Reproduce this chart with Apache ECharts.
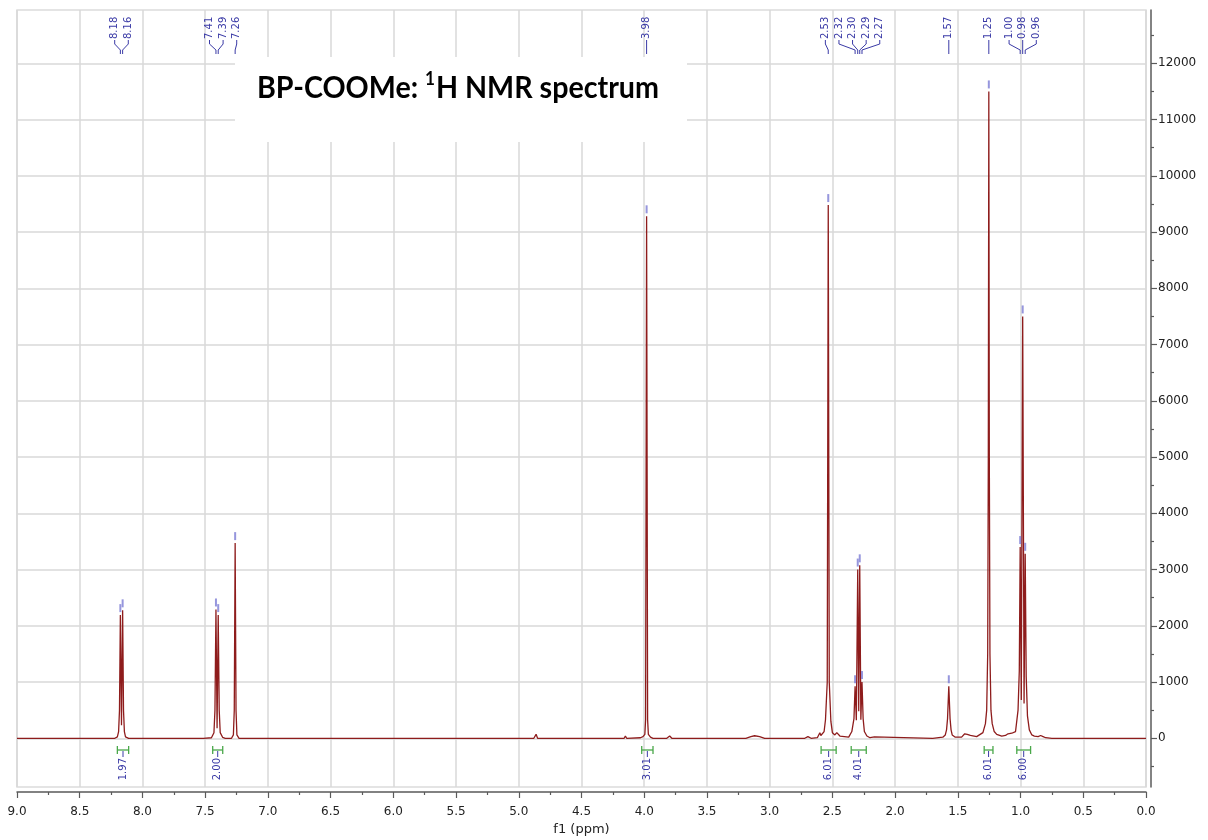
<!DOCTYPE html>
<html>
<head>
<meta charset="utf-8">
<script src="https://cdn.jsdelivr.net/npm/echarts@6/dist/echarts.min.js"></script>
<style>html,body{margin:0;padding:0;background:#fff}#c{width:1208px;height:840px}</style>
</head>
<body>
<div id="c"></div>
<script>
// ---- spectrum (chemical shift in ppm, intensity) ----
const shiftPpm = [
  9.00, 8.60, 8.22, 8.200, 8.190, 8.183, 8.176, 8.167, 8.158, 8.151, 8.144, 8.135, 8.11,
  7.60, 7.515, 7.508, 7.50, 7.45, 7.43, 7.422, 7.414, 7.405, 7.396, 7.388, 7.38, 7.36, 7.34,
  7.29, 7.275, 7.268, 7.261, 7.254, 7.247, 7.23,
  5.00, 4.88, 4.862, 4.85, 4.16, 4.150, 4.14,
  4.03, 4.01, 3.995, 3.989, 3.981, 3.973, 3.967, 3.95, 3.93,
  3.82, 3.797, 3.78, 3.19, 3.15, 3.12, 3.08, 3.04,
  2.72, 2.695, 2.67, 2.62, 2.600, 2.592, 2.580, 2.566, 2.555, 2.541, 2.533, 2.525, 2.512, 2.50, 2.48, 2.465, 2.455, 2.44,
  2.37, 2.345, 2.328, 2.319, 2.309, 2.298, 2.290, 2.282, 2.273, 2.264, 2.255, 2.245, 2.225, 2.20, 2.165, 2.15,
  1.70, 1.62, 1.60, 1.590, 1.582, 1.576, 1.572, 1.568, 1.562, 1.554, 1.545, 1.52,
  1.47, 1.445, 1.435, 1.425, 1.41, 1.40, 1.385, 1.35,
  1.30, 1.28, 1.27, 1.262, 1.257, 1.253, 1.249, 1.244, 1.236, 1.226, 1.21, 1.19, 1.15, 1.12, 1.10, 1.09, 1.07, 1.06,
  1.04, 1.02, 1.010, 1.003, 0.994, 0.983, 0.972, 0.963, 0.955, 0.945, 0.93, 0.91, 0.89, 0.88, 0.86, 0.84, 0.82, 0.80, 0.75, 0.00
];
const intensity = [
  0, 0, 0, 25, 120, 500, 2190, 230, 2275, 500, 120, 25, 0,
  0, 0, 35, 0, 10, 100, 500, 2290, 180, 2190, 500, 100, 15, 0,
  0, 60, 500, 3470, 500, 60, 0,
  0, 0, 70, 0, 0, 40, 0,
  10, 30, 70, 330, 9280, 330, 70, 20, 0,
  0, 40, 0, 0, 30, 45, 30, 0,
  0, 30, 0, 10, 100, 50, 80, 120, 330, 1000, 9480, 1000, 300, 100, 60, 100, 70, 40,
  20, 120, 350, 925, 320, 3000, 480, 3075, 330, 1000, 350, 120, 40, 10, 25, 0,
  0, 20, 60, 150, 350, 700, 925, 700, 350, 150, 60, 20,
  20, 80, 100, 70, 40, 50, 30, 30,
  100, 260, 500, 1500, 5000, 11500, 5000, 1500, 500, 260, 120, 70, 40, 50, 80, 60, 90, 60,
  120, 500, 1200, 3400, 680, 7500, 620, 3280, 1100, 400, 150, 60, 40, 60, 30, 50, 30, 10, 0, 0
];

// ---- picked peaks ----
const peakPpm    = [8.176, 8.158, 7.414, 7.396, 7.261, 3.981, 2.533, 2.319, 2.298, 2.282, 2.264, 1.572, 1.253, 1.003, 0.983, 0.963];
const peakHeight = [2190, 2275, 2290, 2190, 3470, 9280, 9480, 925, 3000, 3075, 1000, 925, 11500, 3400, 7500, 3280];
const peakLabels = ['8.18','8.16','7.41','7.39','7.26','3.98','2.53','2.32','2.30','2.29','2.27','1.57','1.25','1.00','0.98','0.96'];

// ---- integrals ----
const integralFrom   = [8.20, 7.44, 4.02, 2.59, 2.35, 1.29, 1.03];
const integralTo     = [8.11, 7.36, 3.93, 2.47, 2.23, 1.22, 0.92];
const integralLabels = ['1.97', '2.00', '3.01', '6.01', '4.01', '6.01', '6.00'];

// ---- axis ticks ----
const yMajorTicks = [0, 1000, 2000, 3000, 4000, 5000, 6000, 7000, 8000, 9000, 10000, 11000, 12000];
const yMinorTicks = [-500, 500, 1500, 2500, 3500, 4500, 5500, 6500, 7500, 8500, 9500, 10500, 11500, 12500];

const titleRich = '{a|BP-COOMe: }{s|1}{a|H NMR spectrum}';

const spectrum = shiftPpm.map((p, i) => [p, intensity[i]]);
const peaks = peakPpm.map((p, i) => [p, peakHeight[i]]);

const LABEL_COLOR = '#3a3aa6';
const FONT = 'DejaVu Sans, Verdana, sans-serif';

function spread(xs, gap) {
  let clusters = xs.map(x => ({ n: 1, sum: x }));
  let changed = true;
  while (changed) {
    changed = false;
    for (let k = 0; k < clusters.length - 1; k++) {
      const a = clusters[k], b = clusters[k + 1];
      const aEnd = a.sum / a.n + (a.n - 1) / 2 * gap;
      const bStart = b.sum / b.n - (b.n - 1) / 2 * gap;
      if (bStart - aEnd < gap) {
        a.n += b.n; a.sum += b.sum; clusters.splice(k + 1, 1); changed = true; break;
      }
    }
  }
  const out = [];
  clusters.forEach(c => { const m = c.sum / c.n; for (let j = 0; j < c.n; j++) out.push(m + (j - (c.n - 1) / 2) * gap); });
  return out;
}

const chart = echarts.init(document.getElementById('c'), null, { renderer: 'canvas' });

const AX = '#5a5a5a';
const option = {
  animation: false,
  backgroundColor: '#fff',
  grid: { left: 17, right: 62, top: 10, bottom: 53, show: true, borderColor: '#dcdcdc', borderWidth: 1.5,
          containLabel: false, outerBoundsMode: 'none' },
  xAxis: {
    type: 'value', min: 0, max: 9, interval: 0.5, inverse: true, offset: 5, position: 'bottom',
    name: 'f1 (ppm)', nameLocation: 'middle', nameGap: 30,
    nameTextStyle: { color: '#222', fontSize: 13, fontFamily: FONT },
    axisLine: { show: true, onZero: false, lineStyle: { color: AX, width: 1.5 } },
    axisTick: { show: true, length: 6, lineStyle: { color: AX, width: 1.2 } },
    minorTick: { show: true, splitNumber: 2, length: 3, lineStyle: { color: AX, width: 1.2 } },
    splitLine: { show: true, lineStyle: { color: '#d9d9d9', width: 1.5 } },
    axisLabel: { color: '#222', fontSize: 12, fontFamily: FONT, margin: 14, formatter: v => v.toFixed(1) }
  },
  yAxis: [{
    type: 'value', position: 'right', min: -866, max: 12948, offset: 5,
    axisLine: { show: true, onZero: false, lineStyle: { color: AX, width: 1.5 } },
    axisTick: { show: true, length: 6, customValues: yMajorTicks, lineStyle: { color: AX, width: 1.2 } },
    splitLine: { show: true, lineStyle: { color: '#d9d9d9', width: 1.5 } },
    axisLabel: { show: true, customValues: yMajorTicks, color: '#222', fontSize: 12, fontFamily: FONT, margin: 7,
                 formatter: v => String(Math.round(v)) }
  }, {
    type: 'value', position: 'right', min: -866, max: 12948, offset: 5,
    axisLine: { show: false, onZero: false },
    axisTick: { show: true, length: 3, customValues: yMinorTicks, lineStyle: { color: AX, width: 1.2 } },
    splitLine: { show: false },
    axisLabel: { show: false }
  }],
  graphic: [
    { type: 'rect', z: 1, shape: { x: 235, y: 57, width: 452, height: 85 }, style: { fill: '#fff' } },
    { type: 'text', z: 2, x: 458, y: 88, scaleX: 0.955,
      style: {
        text: titleRich, align: 'center', verticalAlign: 'middle',
        rich: {
          a: { fontFamily: 'Lato, Open Sans, sans-serif', fontWeight: 'bold', fontSize: 30, fill: '#000', lineHeight: 36 },
          s: { fontFamily: 'Lato, Open Sans, sans-serif', fontWeight: 'bold', fontSize: 18, fill: '#000', lineHeight: 36, verticalAlign: 'top', padding: [0, 1, 0, 0] }
        }
      }
    }
  ],
  series: [
    {
      type: 'line', data: spectrum, showSymbol: false, symbol: 'none', z: 3,
      lineStyle: { color: '#8e1c1c', width: 1.3 }, silent: true
    },
    {
      type: 'scatter', data: peaks, symbol: 'rect', symbolSize: [2, 8], symbolOffset: [0, -7],
      itemStyle: { color: '#7c7cd4' }, z: 4, silent: true
    },
    {
      type: 'custom', data: [[0, 0]], z: 5, silent: true, clip: false,
      renderItem: function (params, api) {
        const xs = peakPpm.map(p => api.coord([p, 0])[0]);
        const lx = spread(xs, 13.6);
        const children = [];
        xs.forEach((px, i) => {
          children.push({
            type: 'text', x: lx[i], y: 39, rotation: Math.PI / 2,
            style: { text: peakLabels[i], fill: LABEL_COLOR, font: '10px ' + FONT, align: 'left', verticalAlign: 'middle' }
          });
          children.push({
            type: 'polyline', shape: { points: [[lx[i], 40], [lx[i], 44], [px, 50], [px, 54]] },
            style: { stroke: LABEL_COLOR, lineWidth: 1, fill: null }
          });
        });
        return { type: 'group', children: children };
      }
    },
    {
      type: 'custom', data: [[0, 0]], z: 5, silent: true, clip: false,
      renderItem: function (params, api) {
        const children = [];
        integralFrom.forEach((f, i) => {
          const x1 = api.coord([f, 0])[0], x2 = api.coord([integralTo[i], 0])[0];
          const xc = (x1 + x2) / 2;
          const G = '#4aa84a';
          children.push({ type: 'line', shape: { x1: x1, y1: 750, x2: x2, y2: 750 }, style: { stroke: G, lineWidth: 1.3 } });
          children.push({ type: 'line', shape: { x1: x1, y1: 746, x2: x1, y2: 754 }, style: { stroke: G, lineWidth: 1.3 } });
          children.push({ type: 'line', shape: { x1: x2, y1: 746, x2: x2, y2: 754 }, style: { stroke: G, lineWidth: 1.3 } });
          children.push({ type: 'line', shape: { x1: xc, y1: 751, x2: xc, y2: 757 }, style: { stroke: LABEL_COLOR, lineWidth: 1 } });
          children.push({
            type: 'text', x: xc, y: 758, rotation: Math.PI / 2,
            style: { text: integralLabels[i], fill: LABEL_COLOR, font: '10px ' + FONT, align: 'right', verticalAlign: 'middle' }
          });
        });
        return { type: 'group', children: children };
      }
    }
  ]
};
chart.setOption(option);
</script>
</body>
</html>
